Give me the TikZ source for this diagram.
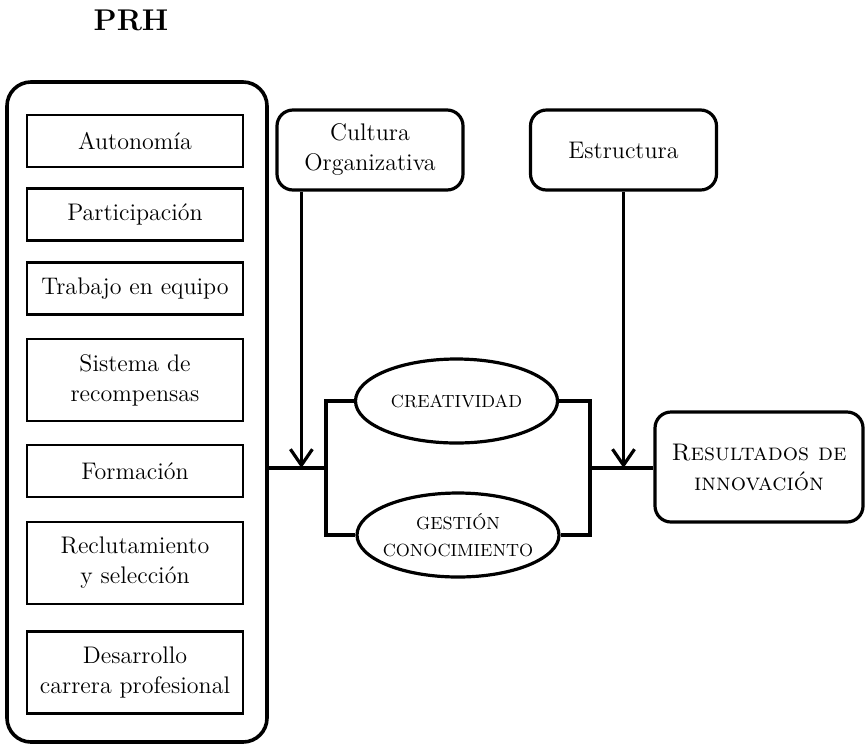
\documentclass[tikz,border=0pt]{standalone}
\usetikzlibrary{arrows.meta,shapes.geometric}

\begin{document}
\begin{tikzpicture}[x=0.5pt, y=-0.5pt,
    every node/.style={font=\fontsize{12}{15}\selectfont, align=center, inner sep=2pt},
    factor/.style={draw, line width=1.2pt, minimum width=108pt, minimum height=26pt},
    tallfactor/.style={factor, minimum height=41pt},
    group/.style={draw, line width=1.8pt, rounded corners=12pt, minimum width=130pt, minimum height=330pt},
    driver/.style={draw, line width=1.6pt, rounded corners=8pt, minimum width=93pt, minimum height=40pt},
    process/.style={ellipse, draw, line width=1.6pt, minimum width=101pt, minimum height=42pt,
        inner xsep=-2pt, inner ysep=1pt, font=\fontsize{8.8}{13.5}\selectfont},
    link/.style={line width=1.6pt},
    flow/.style={link, -{Straight Barb[length=8pt, width=11pt]}}]
    \useasboundingbox (0,0) rectangle (865,745);
    % PRH block
    \node[font=\bfseries\fontsize{15}{18}\selectfont] (title) at (131,20) {PRH};
    \node[group] (prh) at (137,412) {};
    \node[factor] (auto) at (135,141) {Autonomía};
    \node[factor] (part) at (135,214.5) {Participación};
    \node[factor] (team) at (135,288.5) {Trabajo en equipo};
    \node[tallfactor] (reward) at (135,380) {Sistema de\\recompensas};
    \node[factor] (train) at (135,471) {Formación};
    \node[tallfactor] (recruit) at (135,563) {Reclutamiento\\y selección};
    \node[tallfactor] (career) at (135,672.5) {Desarrollo\\carrera profesional};
    % moderators
    \node[driver] (culture) at (370,150) {Cultura\\Organizativa};
    \node[driver] (struct) at (623.5,150) {Estructura};
    % mediators
    \node[process] (crea) at (456.5,401) {CREATIVIDAD};
    \node[process] (know) at (458,535) {GESTIÓN\\CONOCIMIENTO};
    % outcome
    \node[driver, minimum width=104pt, minimum height=55pt] (result) at (759,467)
        {\textsc{Resultados de}\\\textsc{innovación}};
    % connectors
    \coordinate (jl) at (326,468);
    \coordinate (jr) at (590,468);
    \draw[link] (prh.east |- jl) -- ([xshift=1pt]jl);
    \draw[link] (crea.west) -| (jl) |- (know.west);
    \draw[link] (crea.east) -| (jr) |- (know.east);
    \draw[link] (jr) -- (jr -| result.west);
    \draw[flow] ([xshift=13pt]culture.south west) -- ([xshift=13pt]culture.south west |- jl);
    \draw[flow] (struct.south) -- (struct.south |- jr);
\end{tikzpicture}
\end{document}
